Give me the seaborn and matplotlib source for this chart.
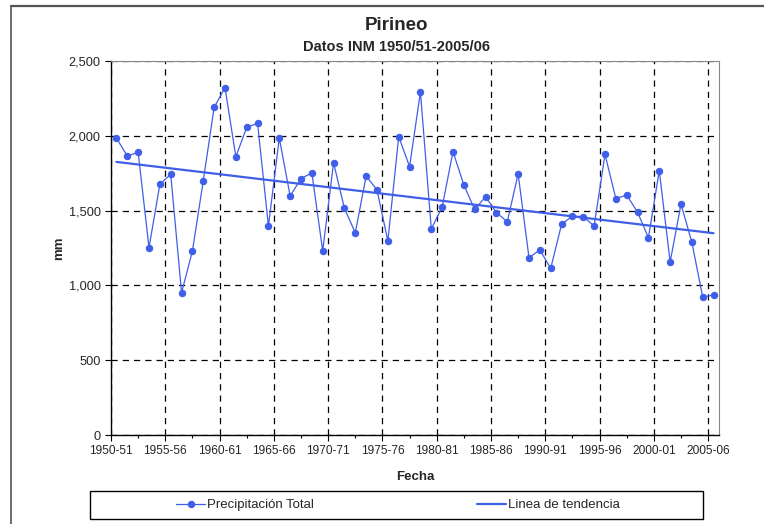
import numpy as np
import pandas as pd
import matplotlib.pyplot as plt
import seaborn as sns
from matplotlib.patches import Rectangle
from matplotlib.lines import Line2D
from matplotlib.ticker import FuncFormatter

# Temporadas hidrológicas 1950/51 - 2005/06
seasons = ['1950-51', '1951-52', '1952-53', '1953-54', '1954-55', '1955-56', '1956-57',
           '1957-58', '1958-59', '1959-60', '1960-61', '1961-62', '1962-63', '1963-64',
           '1964-65', '1965-66', '1966-67', '1967-68', '1968-69', '1969-70', '1970-71',
           '1971-72', '1972-73', '1973-74', '1974-75', '1975-76', '1976-77', '1977-78',
           '1978-79', '1979-80', '1980-81', '1981-82', '1982-83', '1983-84', '1984-85',
           '1985-86', '1986-87', '1987-88', '1988-89', '1989-90', '1990-91', '1991-92',
           '1992-93', '1993-94', '1994-95', '1995-96', '1996-97', '1997-98', '1998-99',
           '1999-00', '2000-01', '2001-02', '2002-03', '2003-04', '2004-05', '2005-06']

# Precipitación total anual (mm)
precip = [1985, 1865, 1890, 1252, 1676, 1743, 951, 1230, 1700, 2190,
          2322, 1860, 2057, 2083, 1397, 1985, 1598, 1713, 1753, 1230,
          1820, 1515, 1352, 1731, 1638, 1297, 1994, 1794, 2293, 1377,
          1524, 1894, 1671, 1508, 1593, 1486, 1426, 1745, 1185, 1237,
          1114, 1408, 1464, 1459, 1397, 1876, 1580, 1604, 1489, 1319,
          1767, 1156, 1544, 1288, 922, 936]

y_ticks = [0, 500, 1000, 1500, 2000, 2500]

blue = '#3f5fe8'

df = pd.DataFrame({'idx': np.arange(len(seasons)), 'season': seasons, 'mm': precip})

sns.set_style('white')
plt.rcParams['font.family'] = ['Liberation Sans', 'DejaVu Sans']

fig, ax = plt.subplots(figsize=(7.64, 5.24), dpi=100)
fig.subplots_adjust(left=111 / 764, right=719 / 764, top=1 - 61 / 524, bottom=1 - 435 / 524)

sns.lineplot(data=df, x='idx', y='mm', ax=ax, color=blue, linewidth=0.9,
             marker='o', markersize=4.6, markeredgecolor=blue,
             label='Precipitación Total')
sns.regplot(data=df, x='idx', y='mm', ax=ax, scatter=False, ci=None, truncate=True,
            color=blue, line_kws={'linewidth': 1.6}, label='Linea de tendencia')

ax.set_xlim(-0.5, len(seasons) - 0.5)
ax.set_ylim(0, 2500)

major = np.arange(0, len(seasons), 5) - 0.5
ax.set_xticks(major)
ax.set_xticklabels(seasons[::5])
ax.set_xticks(major[:-1] + 2.5, minor=True)
ax.set_yticks(y_ticks)
ax.yaxis.set_major_formatter(FuncFormatter(lambda v, p: f'{int(v):,}'))
ax.tick_params(axis='both', which='major', direction='out', length=4, width=0.8,
               color='black', left=True, bottom=True)
ax.tick_params(axis='x', labelsize=8.6)
ax.tick_params(axis='y', labelsize=9.2)
ax.tick_params(axis='x', which='minor', direction='out', length=2.5, width=0.8,
               color='black', bottom=True)

ax.grid(True, which='major', linestyle=(0, (5, 4)), color='black', linewidth=0.9)

for side in ['left', 'bottom']:
    ax.spines[side].set_color('black')
    ax.spines[side].set_linewidth(1.0)
for side in ['top', 'right']:
    ax.spines[side].set_color('#888888')
    ax.spines[side].set_linewidth(0.8)

ax.set_xlabel('Fecha', fontsize=9.5, fontweight='bold', labelpad=10)
ax.set_ylabel('mm', fontsize=9.5, fontweight='bold')
ax.yaxis.set_label_coords((65 - 111) / 608, 0.5)

fig.text(396 / 764, 1 - 25 / 524, 'Pirineo', ha='center', va='center',
         fontsize=13.5, fontweight='bold')
fig.text(396 / 764, 1 - 47 / 524, 'Datos INM 1950/51-2005/06', ha='center', va='center',
         fontsize=10.5, fontweight='bold')

handles, labels = ax.get_legend_handles_labels()
ax.get_legend().remove()
fig.legend(handles, labels, loc='center', ncol=2,
           bbox_to_anchor=(398 / 764, 1 - 505 / 524),
           fontsize=9.5, frameon=False, handlelength=2.25,
           handletextpad=0.15, columnspacing=12.3, borderaxespad=0)
fig.patches.append(Rectangle((90 / 764, 1 - 519 / 524), (703 - 90) / 764, 28 / 524,
                             transform=fig.transFigure, fill=False,
                             edgecolor='black', linewidth=1.0))

# marco exterior del gráfico (solo visibles los bordes superior e izquierdo)
fig.lines.append(Line2D([11 / 764, 1], [1 - 6 / 524, 1 - 6 / 524],
                        transform=fig.transFigure, color='#555555', linewidth=1.6))
fig.lines.append(Line2D([11 / 764, 11 / 764], [0, 1 - 6 / 524],
                        transform=fig.transFigure, color='#555555', linewidth=1.2))

plt.savefig('out.png', dpi=100)
